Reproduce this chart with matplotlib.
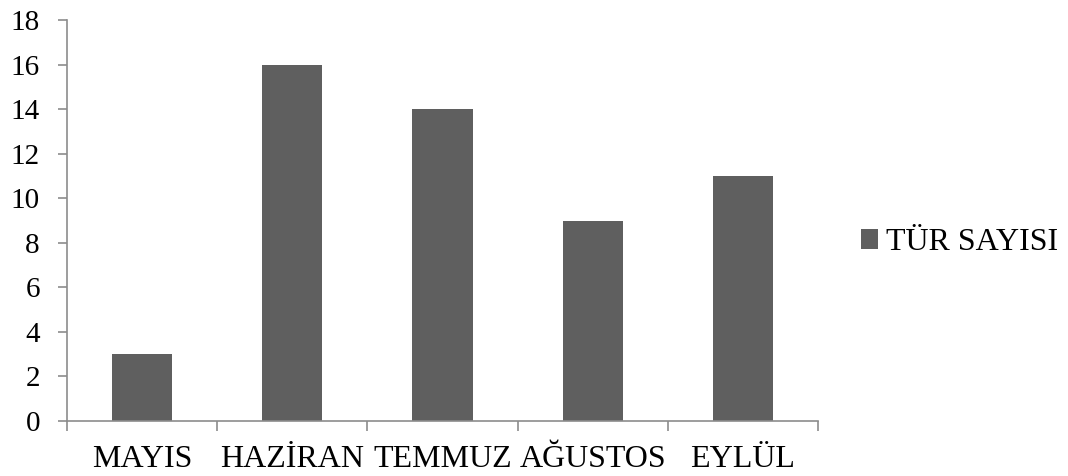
import matplotlib.pyplot as plt
import numpy as np

months = ['MAYIS', 'HAZİRAN', 'TEMMUZ', 'AĞUSTOS', 'EYLÜL']
species_count = [3, 16, 14, 9, 11]
series_name = 'TÜR SAYISI'

plt.rcParams['font.family'] = ['Liberation Serif', 'DejaVu Serif']
plt.rcParams['font.size'] = 21

bar_color = '#5f5f5f'
axis_color = '#8c8c8c'

fig = plt.figure(figsize=(10.68, 4.76), dpi=100)
ax = fig.add_axes([0.0627, 0.1155, 0.7033, 0.8425])

x = np.arange(len(months))
ax.bar(x, species_count, width=0.4, color=bar_color, label=series_name)

ax.set_xlim(-0.5, len(months) - 0.5)
ax.set_ylim(0, 18)
ax.set_yticks(range(0, 19, 2))

# category labels sit between the boundary ticks
ax.set_xticks(x)
ax.set_xticklabels(months, fontsize=23)
ax.set_xticks(np.arange(-0.5, len(months)), minor=True)
ax.tick_params(axis='x', which='major', length=0, pad=17)
ax.tick_params(axis='x', which='minor', length=7, width=1.2, color=axis_color)
ax.tick_params(axis='y', length=6.5, width=1.2, color=axis_color, pad=13)

for side in ('top', 'right'):
    ax.spines[side].set_visible(False)
for side in ('left', 'bottom'):
    ax.spines[side].set_color(axis_color)
    ax.spines[side].set_linewidth(1.2)

fig.legend(loc='center left', bbox_to_anchor=(0.806, 0.49), frameon=False,
           fontsize=23, handlelength=0.55, handleheight=0.55, handletextpad=0.25,
           borderpad=0, borderaxespad=0)

fig.savefig('out.png', dpi=100)
